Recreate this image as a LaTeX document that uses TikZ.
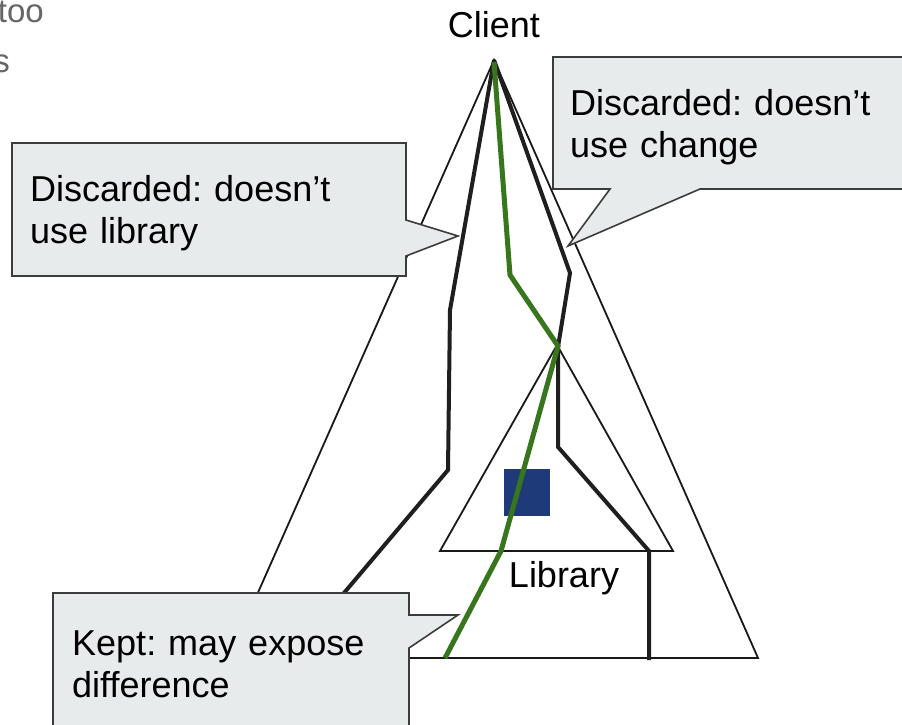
\documentclass[tikz,border=0pt]{standalone}
\usepackage{fontspec}
\setmainfont{Liberation Sans}
\usepackage{xcolor}
\usepackage{tikz}
\frenchspacing

\definecolor{keptgreen}{HTML}{38761D}
\definecolor{libblue}{HTML}{1F3A78}
\definecolor{notefill}{HTML}{E8EBEC}
\definecolor{noteedge}{HTML}{3C3C3C}
\definecolor{cutgray}{HTML}{666666}

\begin{document}
\begin{tikzpicture}[x=1pt, y=-1pt,
    every node/.style={font=\fontsize{36}{42}\selectfont, inner sep=0pt},
    thin line/.style={line width=1.8pt, black!90},
    path line/.style={line width=4pt, black!88},
    kept line/.style={line width=5pt, keptgreen},
    note/.style={fill=notefill, draw=noteedge, line width=1.6pt},
    note text/.style={text width=340pt, align=left, anchor=base west}]
    \useasboundingbox (0,0) rectangle (902,725);
    \clip (0,0) rectangle (902,725);
    \fill[white] (0,0) rectangle (902,725);
    \node[font=\fontsize{33}{40}\selectfont, text=cutgray, anchor=base east] (cuttoo) at (44,23) {too};
    \node[font=\fontsize{33}{40}\selectfont, text=cutgray, anchor=base east] (cuts) at (10,72) {s};
    \coordinate (top) at (494,60);
    \draw[thin line] (top) -- (229,658) -- (758,658) -- cycle;
    \draw[thin line] (557,345) -- (440,551) -- (673,551) -- cycle;
    \fill[libblue] (504,469) rectangle (550,516);
    \draw[path line] (top) -- (450,310) -- (448,470) -- (289,658);
    \draw[path line] (top) -- (570,273) -- (558,347) -- (558,447) -- (649,551) -- (649,660);
    \draw[kept line] (494,62) -- (510,275) -- (558,346) -- (501,551) -- (445,658);
    \filldraw[note] (12,143) -- (406,143) -- (406,220) -- (458,236) -- (406,256) -- (406,276) -- (12,276) -- cycle;
    \node[note text] (libnote) at (30,201) {Discarded: doesn't\\use library};
    \filldraw[note] (553,57) -- (950,57) -- (950,189) -- (700,189) -- (568,246) -- (610,189) -- (553,189) -- cycle;
    \node[note text] (changenote) at (570,115) {Discarded: doesn't\\use change};
    \filldraw[note] (53,593) -- (409,593) -- (409,615) -- (458,615) -- (409,648) -- (409,728) -- (53,728) -- cycle;
    \node[note text] (keptnote) at (72,655) {Kept: may expose\\difference};
    \node[anchor=base] (client) at (494,38) {Client};
    \node[anchor=base] (library) at (564,587) {Library};
\end{tikzpicture}
\end{document}
